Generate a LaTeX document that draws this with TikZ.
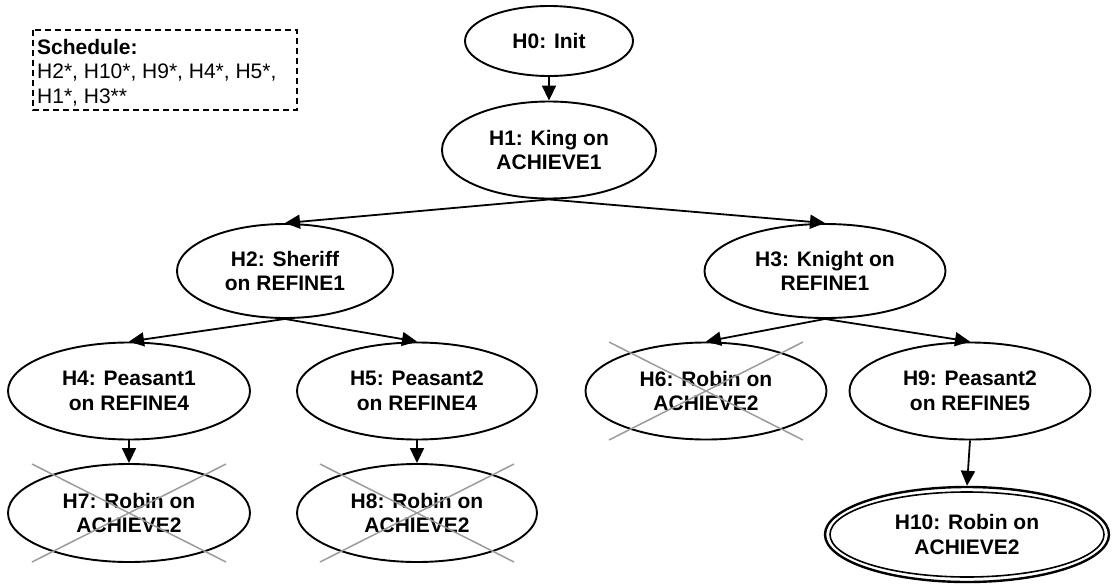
\documentclass[tikz,border=0pt]{standalone}
\usepackage{fontspec}
\setmainfont{Liberation Sans}
\usetikzlibrary{arrows.meta, shapes.geometric}
\definecolor{prunegray}{RGB}{155,155,155}

\begin{document}
\begin{tikzpicture}[x=1pt, y=-1pt,
  goal/.style={ellipse, draw, line width=1.9pt, inner sep=0pt, align=center,
               font=\bfseries\fontsize{21}{24.5}\selectfont},
  link/.style={line width=1.8pt, -{Triangle[length=15pt, width=14pt]}},
  cross/.style={draw=prunegray, line width=1.5pt},
  schedtext/.style={inner sep=0pt, anchor=north west, align=left,
                    font=\fontsize{21}{24.5}\selectfont}]

\useasboundingbox (0,0) rectangle (1112,584);

% schedule box
\draw[line width=1.5pt, dash pattern=on 6pt off 4pt] (33,30) rectangle (297,110);
\node[schedtext] (sched) at (37,38.8)
  {\textbf{Schedule:}\\H2*, H10*, H9*, H4*, H5*,\\H1*, H3**};

% goal tree
\node[goal, minimum width=168pt, minimum height=70pt] (H0) at (549,41)  {H0: Init};
\node[goal, minimum width=214pt, minimum height=97pt] (H1) at (549,150) {H1: King on\\ACHIEVE1};
\node[goal, minimum width=216pt, minimum height=94pt] (H2) at (285,271) {H2: Sheriff\\on REFINE1};
\node[goal, minimum width=241pt, minimum height=94pt] (H3) at (825,271) {H3: Knight on\\REFINE1};
\node[goal, minimum width=242pt, minimum height=97pt] (H4) at (129,391) {H4: Peasant1\\on REFINE4};
\node[goal, minimum width=240pt, minimum height=97pt] (H5) at (417,391) {H5: Peasant2\\on REFINE4};
\node[goal, minimum width=241pt, minimum height=97pt] (H6) at (706,391) {H6: Robin on\\ACHIEVE2};
\node[goal, minimum width=241pt, minimum height=97pt] (H9) at (970,391) {H9: Peasant2\\on REFINE5};
\node[goal, minimum width=242pt, minimum height=98pt] (H7) at (129,513) {H7: Robin on\\ACHIEVE2};
\node[goal, minimum width=240pt, minimum height=98pt] (H8) at (417,513) {H8: Robin on\\ACHIEVE2};
\node[goal, line width=2.4pt, minimum width=284pt, minimum height=95pt] (H10) at (967,534.5)
  {H10: Robin on\\ACHIEVE2};
\draw[line width=1.6pt] (H10.center) ellipse [x radius=137pt, y radius=42.5pt];

% expansions
\draw[link] (H0.south) -- (H1.north);
\draw[link] (H1.south) -- (H2.north);
\draw[link] (H1.south) -- (H3.north);
\draw[link] (H2.south) -- (H4.north);
\draw[link] (H2.south) -- (H5.north);
\draw[link] (H3.south) -- (H6.north);
\draw[link] (H3.south) -- (H9.north);
\draw[link] (H4.south) -- (H7.north);
\draw[link] (H5.south) -- (H8.north);
\draw[link] (H9.south) -- (H10.north);

% pruned goals
\foreach \g in {H6,H7,H8}{
  \draw[cross] ([shift={(-97,-49)}]\g.center) -- ([shift={(97,49)}]\g.center);
  \draw[cross] ([shift={(97,-49)}]\g.center) -- ([shift={(-97,49)}]\g.center);
}
\end{tikzpicture}
\end{document}
